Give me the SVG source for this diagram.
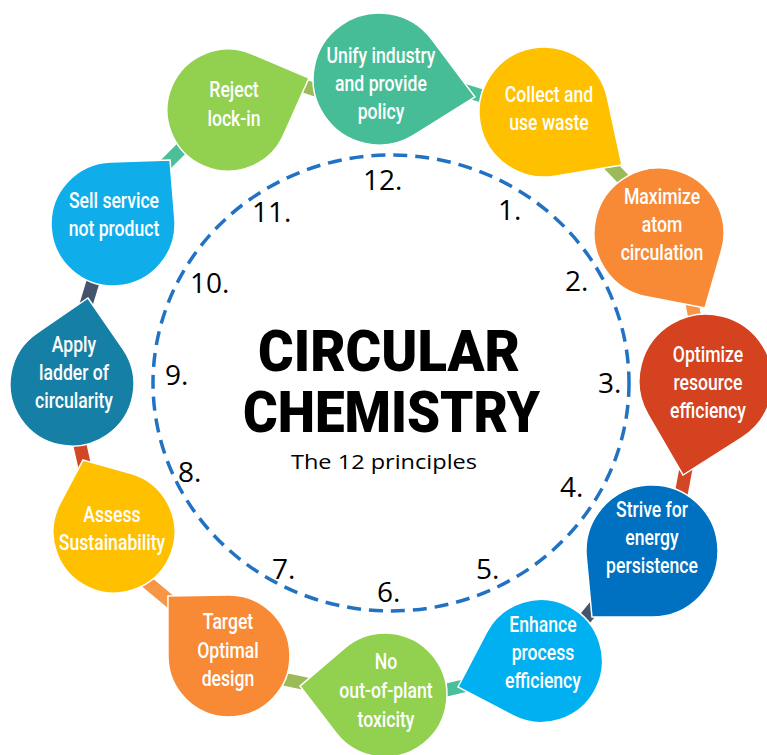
<svg xmlns="http://www.w3.org/2000/svg" width="767" height="755" viewBox="0 0 767 755">
<style>
.drop{stroke:#fff;stroke-width:1.5}
.lbl{font-family:Roboto,"Liberation Sans",sans-serif;font-size:22px;font-weight:500;fill:#fff;text-anchor:middle}
.num{font-family:"Open Sans","Liberation Sans",sans-serif;font-size:28px;fill:#000}
.ttl{font-family:Roboto,"Liberation Sans",sans-serif;font-size:57px;font-weight:900;fill:#000;text-anchor:middle}
.con{stroke-width:13;fill:none}
.teal{stroke:#4BBE9A}.olive{stroke:#9BBB59}.orange{stroke:#F79646}.red{stroke:#D24726}.slate{stroke:#44546A}
</style>
<rect width="767" height="755" fill="#fff"/>
<ellipse cx="391" cy="383" rx="238" ry="228" fill="none" stroke="#2272C3" stroke-width="3.5" stroke-dasharray="14 8"/>
<g id="connectors">
<line class="con teal" x1="450" y1="86" x2="495" y2="100"/>
<line class="con olive" x1="603" y1="158" x2="627" y2="183"/>
<line class="con orange" x1="690" y1="292" x2="697" y2="330"/>
<line class="con red" x1="688" y1="458" x2="680" y2="500"/>
<line class="con slate" x1="602" y1="598" x2="578" y2="627"/>
<line class="con teal" x1="472" y1="684" x2="438" y2="692"/>
<line class="con olive" x1="312" y1="685" x2="278" y2="678"/>
<line class="con orange" x1="178" y1="608" x2="142" y2="578"/>
<line class="con red" x1="86" y1="472" x2="77" y2="432"/>
<line class="con slate" x1="85" y1="308" x2="96" y2="272"/>
<line class="con teal" x1="156" y1="174" x2="192" y2="138"/>
<line class="con olive" x1="298" y1="84" x2="322" y2="92"/>
</g>
<g id="n12"><path class="drop" fill="#47BD97" transform="translate(379,79) rotate(10.6)" d="M97.7,0 L44.6,48.7 A66,66 0 1 1 44.6,-48.7 Z"/>
<text class="lbl" transform="translate(381,63) scale(0.8,1)"><tspan x="0" y="0">Unify industry</tspan><tspan x="0" y="28">and provide</tspan><tspan x="0" y="56">policy</tspan></text></g>
<g id="n1"><path class="drop" fill="#FFC000" transform="translate(544,112) rotate(34.2)" d="M94.3,0 L44.8,47.1 A65,65 0 1 1 44.8,-47.1 Z"/>
<text class="lbl" transform="translate(549,102) scale(0.8,1)"><tspan x="0" y="0">Collect and</tspan><tspan x="0" y="28">use waste</tspan></text></g>
<g id="n2"><path class="drop" fill="#F88A36" transform="translate(659,233) rotate(58.5)" d="M88,0 L48,43.8 A65,65 0 1 1 48,-43.8 Z"/>
<text class="lbl" transform="translate(662,204) scale(0.8,1)"><tspan x="0" y="0">Maximize</tspan><tspan x="0" y="28">atom</tspan><tspan x="0" y="56">circulation</tspan></text></g>
<g id="n3"><path class="drop" fill="#D4421F" transform="translate(706,381) rotate(103.7)" d="M96.8,0 L46.4,48.4 A67,67 0 1 1 46.4,-48.4 Z"/>
<text class="lbl" transform="translate(708,362) scale(0.8,1)"><tspan x="0" y="0">Optimize</tspan><tspan x="0" y="28">resource</tspan><tspan x="0" y="56">efficiency</tspan></text></g>
<g id="n4"><path class="drop" fill="#0070C0" transform="translate(652,551) rotate(132.3)" d="M89.2,0 L48.8,44.4 A66,66 0 1 1 48.8,-44.4 Z"/>
<text class="lbl" transform="translate(652,517) scale(0.8,1)"><tspan x="0" y="0">Strive for</tspan><tspan x="0" y="28">energy</tspan><tspan x="0" y="56">persistence</tspan></text></g>
<g id="n5"><path class="drop" fill="#00B0F0" transform="translate(541,661) rotate(162.6)" d="M87,0 L43.5,43.5 A61.5,61.5 0 1 1 43.5,-43.5 Z"/>
<text class="lbl" transform="translate(543,632) scale(0.8,1)"><tspan x="0" y="0">Enhance</tspan><tspan x="0" y="28">process</tspan><tspan x="0" y="56">efficiency</tspan></text></g>
<g id="n6"><path class="drop" fill="#92D050" transform="translate(385,695) rotate(186)" d="M85.5,0 L45,42.7 A62,62 0 1 1 45,-42.7 Z"/>
<text class="lbl" transform="translate(386,669) scale(0.8,1)"><tspan x="0" y="0">No</tspan><tspan x="0" y="29">out-of-plant</tspan><tspan x="0" y="58">toxicity</tspan></text></g>
<g id="n7"><path class="drop" fill="#F88A36" transform="translate(229,656) rotate(224.5)" d="M85.6,0 L43.5,42.8 A61,61 0 1 1 43.5,-42.8 Z"/>
<text class="lbl" transform="translate(228,629) scale(0.8,1)"><tspan x="0" y="0">Target</tspan><tspan x="0" y="29">Optimal</tspan><tspan x="0" y="57">design</tspan></text></g>
<g id="n8"><path class="drop" fill="#FFC000" transform="translate(114,532) rotate(246.7)" d="M78.4,0 L47.5,38.3 A61,61 0 1 1 47.5,-38.3 Z"/>
<text class="lbl" transform="translate(112,522) scale(0.8,1)"><tspan x="0" y="0">Assess</tspan><tspan x="0" y="28">Sustainability</tspan></text></g>
<g id="n9"><path class="drop" fill="#167FA5" transform="translate(72,384) rotate(-79.5)" d="M87.5,0 L43.9,43.7 A62,62 0 1 1 43.9,-43.7 Z"/>
<text class="lbl" transform="translate(74,352) scale(0.8,1)"><tspan x="0" y="0">Apply</tspan><tspan x="0" y="28">ladder of</tspan><tspan x="0" y="56">circularity</tspan></text></g>
<g id="n10"><path class="drop" fill="#0FAEEB" transform="translate(113,224) rotate(-48.3)" d="M85.7,0 L44.9,42.8 A62,62 0 1 1 44.9,-42.8 Z"/>
<text class="lbl" transform="translate(114,208) scale(0.8,1)"><tspan x="0" y="0">Sell service</tspan><tspan x="0" y="28">not product</tspan></text></g>
<g id="n11"><path class="drop" fill="#92D050" transform="translate(228,110) rotate(-21.6)" d="M87.1,0 L42.7,43.5 A61,61 0 1 1 42.7,-43.5 Z"/>
<text class="lbl" transform="translate(234,97) scale(0.8,1)"><tspan x="0" y="0">Reject</tspan><tspan x="0" y="29">lock-in</tspan></text></g>
<g id="numbers">
<text class="num" x="363" y="190">12.</text>
<text class="num" x="498" y="220">1.</text>
<text class="num" x="565" y="291">2.</text>
<text class="num" x="598" y="393">3.</text>
<text class="num" x="560" y="497">4.</text>
<text class="num" x="476" y="579">5.</text>
<text class="num" x="377" y="602">6.</text>
<text class="num" x="272" y="579">7.</text>
<text class="num" x="178" y="482">8.</text>
<text class="num" x="165" y="385">9.</text>
<text class="num" x="190" y="293">10.</text>
<text class="num" x="252" y="222">11.</text>
</g>
<g id="title">
<text class="ttl" x="389" y="371" textLength="262" lengthAdjust="spacingAndGlyphs">CIRCULAR</text>
<text class="ttl" x="391.5" y="432" textLength="297" lengthAdjust="spacingAndGlyphs">CHEMISTRY</text>
<text x="384" y="469" text-anchor="middle" textLength="186" lengthAdjust="spacingAndGlyphs" style="font-family:'Open Sans','Liberation Sans',sans-serif;font-size:20px;fill:#000">The 12 principles</text>
</g>
</svg>
